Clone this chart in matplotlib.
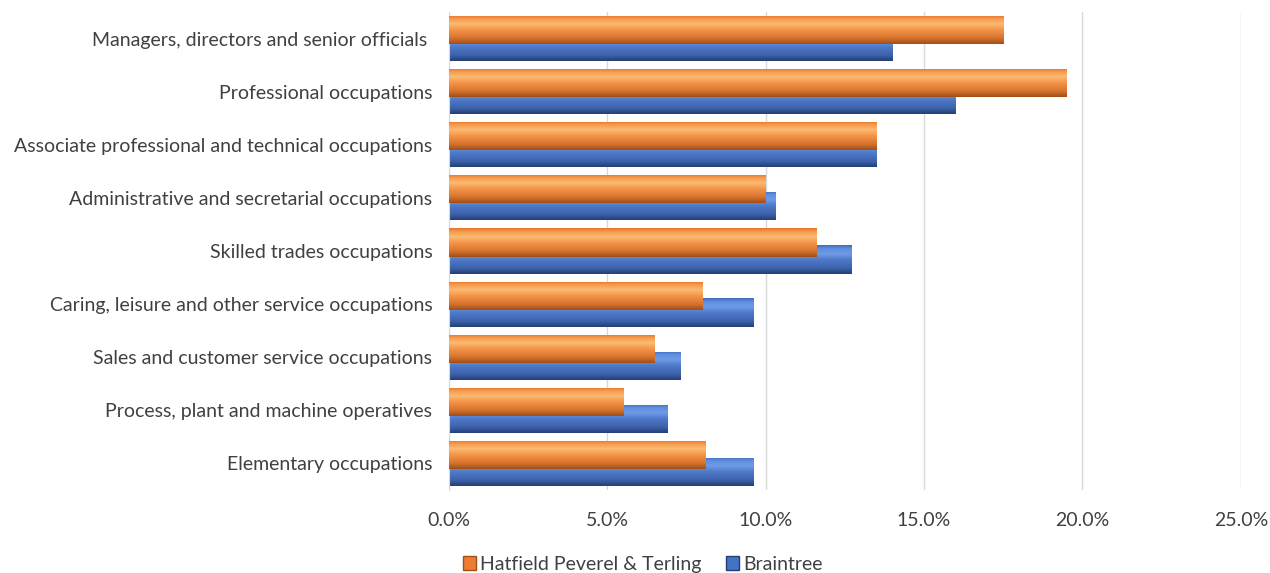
import numpy as np
import matplotlib.pyplot as plt
from matplotlib.patches import Patch

plt.rcParams['font.family'] = ['Lato', 'DejaVu Sans']

categories = ["Managers, directors and senior officials ",
              "Professional occupations",
              "Associate professional and technical occupations",
              "Administrative and secretarial occupations",
              "Skilled trades occupations",
              "Caring, leisure and other service occupations",
              "Sales and customer service occupations",
              "Process, plant and machine operatives",
              "Elementary occupations"]
hatfield = [17.5, 19.5, 13.5, 10.0, 11.6, 8.0, 6.5, 5.5, 8.1]
braintree = [14.0, 16.0, 13.5, 10.3, 12.7, 9.6, 7.3, 6.9, 9.6]
ticks = [0, 5, 10, 15, 20, 25]

y = np.arange(len(categories))
h = 0.53
off = 0.16

fig = plt.figure(figsize=(12.7, 5.73), dpi=100)
ax = fig.add_axes([0.3535, 0.145, 0.6235, 0.834])

def gradient(stops):
    # vertical colour ramp, top to bottom
    pos = np.array([s[0] for s in stops])
    cols = np.array([[int(s[1][i:i + 2], 16) / 255 for i in (1, 3, 5)] for s in stops])
    t = np.linspace(0, 1, 60)
    g = np.stack([np.interp(t, pos, cols[:, k]) for k in range(3)], axis=-1)
    return g[:, None, :]

orange_grad = gradient([(0, '#e8742a'), (0.12, '#f59a4c'), (0.3, '#fbbb72'),
                        (0.5, '#f4964a'), (0.8, '#d8722e'), (1, '#9e5018')])
blue_grad = gradient([(0, '#3f6cc0'), (0.12, '#5f8fe0'), (0.3, '#6e9be6'),
                      (0.5, '#4f7acb'), (0.8, '#3d62aa'), (1, '#243f78')])

def bevel_bars(ypos, vals, base, grad, z):
    bars = ax.barh(ypos, vals, height=h, color=base, zorder=z)
    for p in bars:
        x0, y0 = p.get_x(), p.get_y()
        x1, y1 = x0 + p.get_width(), y0 + p.get_height()
        im = ax.imshow(grad, extent=(x0, x1, y1, y0), aspect='auto',
                       interpolation='bilinear', zorder=z + 0.1)
        im.set_clip_path(p)

bevel_bars(y + off, braintree, '#4472c4', blue_grad, 2)
bevel_bars(y - off, hatfield, '#ed7d31', orange_grad, 3)

ax.set_xlim(0, 25)
ax.set_ylim(len(categories) - 0.5, -0.5)
ax.set_aspect('auto')
ax.set_xticks(ticks)
ax.set_xticklabels([f"{t:.1f}%" for t in ticks], fontsize=14, color='#404040')
ax.set_yticks(y)
ax.set_yticklabels(categories, fontsize=14, color='#404040')
ax.tick_params(axis='x', length=0, pad=16)
ax.tick_params(axis='y', length=0, pad=12)
ax.grid(axis='x', color='#d9d9d9', linewidth=1, zorder=0)
ax.set_axisbelow(True)
for s in ['top', 'right', 'bottom']:
    ax.spines[s].set_visible(False)
ax.spines['left'].set_color('#d9d9d9')

handles = [Patch(facecolor='#ed7d31', edgecolor='#9e5018', label='Hatfield Peverel & Terling'),
           Patch(facecolor='#4472c4', edgecolor='#243f78', label='Braintree')]
fig.legend(handles=handles, loc='lower center', ncol=2, frameon=False,
           bbox_to_anchor=(0.506, -0.03), fontsize=14, handlelength=0.7,
           handleheight=0.7, handletextpad=0.2, columnspacing=1.25,
           labelcolor='#404040')

fig.savefig('out.png', dpi=100)
